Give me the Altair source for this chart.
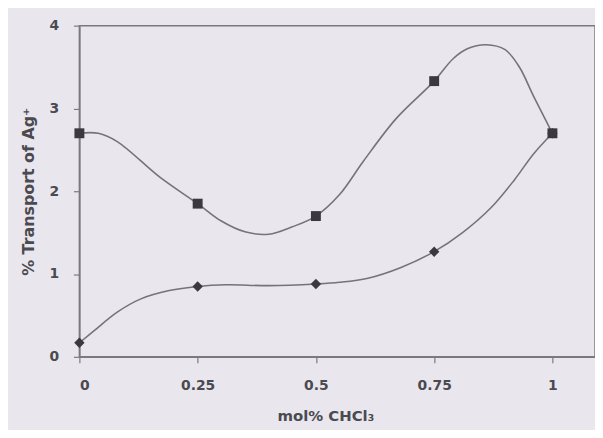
import altair as alt
import pandas as pd

# Measured points
x_points = [0, 0.25, 0.5, 0.75, 1.0]
square_y = [2.70, 1.85, 1.70, 3.33, 2.70]
diamond_y = [0.17, 0.85, 0.88, 1.27, 2.70]

# Drawn trend curves
upper_curve_x = [0, 0.04, 0.08, 0.17, 0.25, 0.30, 0.35, 0.40, 0.45, 0.50, 0.55,
                 0.60, 0.67, 0.75, 0.79, 0.82, 0.86, 0.90, 0.93, 0.96, 1.00]
upper_curve_y = [2.70, 2.70, 2.60, 2.17, 1.85, 1.64, 1.51, 1.48, 1.57, 1.70, 1.96,
                 2.36, 2.88, 3.33, 3.60, 3.72, 3.77, 3.71, 3.50, 3.15, 2.70]
lower_curve_x = [0, 0.03, 0.08, 0.13, 0.19, 0.25, 0.31, 0.40, 0.50, 0.55, 0.61,
                 0.68, 0.75, 0.81, 0.87, 0.92, 0.96, 1.00]
lower_curve_y = [0.17, 0.31, 0.54, 0.70, 0.80, 0.85, 0.87, 0.86, 0.88, 0.90, 0.95,
                 1.08, 1.27, 1.50, 1.80, 2.14, 2.45, 2.70]

x_ticks = [0, 0.25, 0.5, 0.75, 1]
y_ticks = [0, 1, 2, 3, 4]

curves = pd.concat([
    pd.DataFrame({"x": upper_curve_x, "y": upper_curve_y, "s": "upper"}),
    pd.DataFrame({"x": lower_curve_x, "y": lower_curve_y, "s": "lower"}),
])
squares = pd.DataFrame({"x": x_points, "y": square_y})
diamonds = pd.DataFrame({"x": x_points, "y": diamond_y})

FONT = "DejaVu Sans"
AX = "#7a7a7e"
TXT = "#4a4a50"

xs = alt.Scale(domain=[0, 1.09], nice=False, zero=False)
ys = alt.Scale(domain=[0, 4], nice=False)

x_axis = alt.Axis(values=x_ticks, title="mol% CHCl₃", grid=False,
                  labelExpr="'' + datum.value",
                  labelFont=FONT, labelFontWeight="bold", labelFontSize=14,
                  labelColor=TXT, labelPadding=16, domainColor=AX, domainWidth=1.5,
                  tickColor=AX, tickSize=6, tickWidth=1.2,
                  titleFont=FONT, titleFontWeight="bold", titleFontSize=15,
                  titleColor=TXT, titlePadding=16, titleX=248)
y_axis = alt.Axis(values=y_ticks, title="% Transport of Ag⁺", grid=False,
                  labelExpr="'' + datum.value",
                  labelFont=FONT, labelFontWeight="bold", labelFontSize=14,
                  labelColor=TXT, labelPadding=15, domainColor=AX, domainWidth=1.5,
                  tickColor=AX, tickSize=6, tickWidth=1.2,
                  titleFont=FONT, titleFontWeight="bold", titleFontSize=16,
                  titleColor=TXT, titlePadding=13)

lines = alt.Chart(curves).mark_line(
    interpolate="catmull-rom", color="#747478", strokeWidth=1.6
).encode(
    x=alt.X("x:Q", scale=xs, axis=x_axis),
    y=alt.Y("y:Q", scale=ys, axis=y_axis),
    detail="s:N",
)

sq = alt.Chart(squares).mark_point(
    shape="square", filled=True, size=100, color="#3a3a3e", opacity=1
).encode(x=alt.X("x:Q", scale=xs), y=alt.Y("y:Q", scale=ys))

dm = alt.Chart(diamonds).mark_point(
    shape="diamond", filled=True, size=110, color="#3a3a3e", opacity=1
).encode(x=alt.X("x:Q", scale=xs), y=alt.Y("y:Q", scale=ys))

chart = alt.layer(lines, sq, dm).properties(
    width=520, height=334,
    autosize=alt.AutoSizeParams(type="none"),
    padding={"left": 72, "top": 16, "right": 0, "bottom": 72},
    background="#e9e7ed",
).configure_view(
    stroke=AX, strokeWidth=1.5
)

chart.save("out.html", embed_options={"renderer": "svg", "actions": False})
